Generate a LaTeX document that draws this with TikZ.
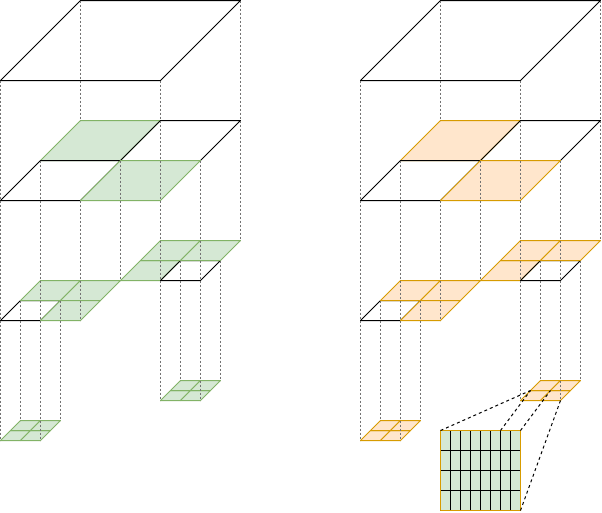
\documentclass[tikz,border=0pt]{standalone}
\usepackage{amsmath}

\definecolor{greenfill}{HTML}{D5E8D4}
\definecolor{greenline}{HTML}{82B366}
\definecolor{orangefill}{HTML}{FFE6CC}
\definecolor{orangeline}{HTML}{D79B00}

\tikzset{
	plane/.style={draw=black,line width=1pt,line join=round},
	drop/.style={draw=black!55,line width=1pt,dash pattern=on 2pt off 2pt},
	zoomline/.style={draw=black,line width=1pt,dash pattern=on 3pt off 3pt}
}

% one flat cell: lower left x, lower left y, width
\newcommand{\cell}[3]{(#1,#2) -- ++(#3,0) -- ++(#3/2,-#3/2) -- ++(-#3,0) -- cycle}

\begin{document}
\begin{tikzpicture}[x=1pt,y=-1pt]
	\useasboundingbox (-0.5,-0.5) rectangle (601.5,511.5);
	\foreach \dx/\cfill/\cline in {0/greenfill/greenline,360/orangefill/orangeline}{
		\begin{scope}[xshift=\dx pt]
			% top levels
			\draw[plane] \cell{0}{80}{160};
			\draw[plane,fill=\cfill,draw=\cline] \cell{40}{160}{80};
			\draw[plane] \cell{0}{200}{80};
			\draw[plane] \cell{120}{160}{80};
			\draw[plane,fill=\cfill,draw=\cline] \cell{80}{200}{80};
			% third level
			\draw[plane,fill=\cfill,draw=\cline] \cell{120}{280}{40};
			\draw[plane] \cell{0}{320}{40};
			\draw[plane] \cell{160}{280}{40};
			\foreach \cx/\cy in {20/300,60/300,40/320,140/260,180/260}
				\draw[plane,fill=\cfill,draw=\cline] \cell{\cx}{\cy}{40};
			% last level
			\foreach \cx/\cy in {0/440,20/440,10/430,30/430,160/400,180/400,170/390,190/390}
				\draw[plane,fill=\cfill,draw=\cline] \cell{\cx}{\cy}{20};
			% drops
			\foreach \lx/\ya/\yb in {0/80/440,20/300/420,40/160/440,60/300/420,80/0/120,80/200/320,120/160/280,160/80/400,180/260/380,200/160/400,220/260/380,240/0/240}
				\draw[drop] (\lx,\ya) -- (\lx,\yb);
		\end{scope}
	}
	% inset
	\draw[plane,fill=greenfill] (440,430) rectangle (520,510);
	\foreach \lx in {450,460,...,510}
		\draw[plane] (\lx,430) -- (\lx,510);
	\foreach \ly in {450,470,490}
		\draw[plane] (440,\ly) -- (520,\ly);
	\draw[plane,draw=orangeline] (440,430) rectangle (520,510);
	\draw[zoomline] (440,430) -- (530,390);
	\draw[zoomline] (500,430) -- (530,390);
	\draw[zoomline] (520,430) -- (550,390);
	\draw[zoomline] (520,510) -- (560,400);
\end{tikzpicture}
\end{document}
